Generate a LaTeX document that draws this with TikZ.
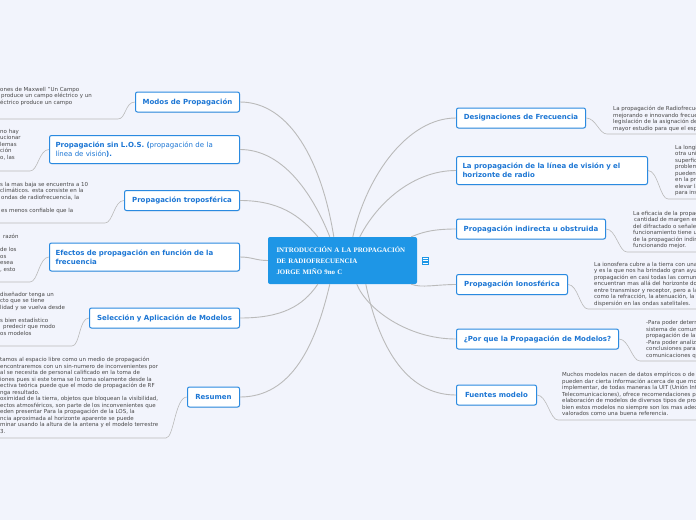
\documentclass[tikz,border=0pt]{standalone}
\usepackage{fontspec}
\setmainfont{DejaVu Sans}
\newfontfamily\rootfont{Liberation Serif}
\usepackage{tikz}
\usetikzlibrary{shadows}
\usepackage{xcolor}
\definecolor{bgpaper}{RGB}{242,244,252}
\definecolor{rootblue}{RGB}{30,150,230}
\definecolor{topicblue}{RGB}{42,138,224}
\definecolor{topictext}{RGB}{28,118,212}
\definecolor{linegray}{RGB}{186,186,186}
\definecolor{notegray}{RGB}{72,72,72}

\begin{document}
\begin{tikzpicture}[x=1pt,y=-1pt,
    root/.style={fill=rootblue, rounded corners=2pt, text=white, align=left,
      minimum width=149pt, minimum height=47pt, text width=132pt, inner xsep=8.5pt,
      font=\rootfont\bfseries\fontsize{6.9}{11}\selectfont},
    topic/.style={draw=topicblue, line width=1pt, fill=white, rounded corners=2pt,
      text=topictext, font=\fontsize{7}{9}\selectfont\bfseries,
      minimum height=20pt, inner xsep=6pt, inner ysep=4pt,
      drop shadow={opacity=0.12, shadow xshift=0.6pt, shadow yshift=-0.8pt}},
    twoline/.style={align=left, text width=#1, minimum height=28pt},
    note/.style={font=\fontsize{5.5}{6.5}\selectfont, text=notegray, align=left,
      inner sep=0pt, anchor=north west},
    branch/.style={draw=linegray, line width=0.9pt},
    under/.style={draw=linegray, line width=0.6pt}]

    % Canvas
    \useasboundingbox (0,0) rectangle (696,520);
    \clip (0,0) rectangle (696,520);
    \fill[bgpaper] (0,0) rectangle (696,520);

    % Central topic
    \node[root] (root) at (342.5,260.5) {INTRODUCCIÓN A LA PROPAGACIÓN\\DE RADIOFRECUENCIA\\JORGE MIÑO 9no C};
    \node[fill=rootblue, minimum width=7pt, minimum height=8pt, inner sep=0pt] (noteicon) at (425,260.5) {};
    \draw[white, line width=0.6pt] (422.5,258) -- (427.5,258) (422.5,260.5) -- (427.5,260.5) (422.5,263) -- (427.5,263);

    % Left topics
    \node[topic, anchor=east, minimum width=104pt] (modos) at (240,102) {Modos de Propagación};
    \node[topic, twoline=178pt, anchor=east] (sinlos) at (240,149.5) {Propagación sin L.O.S. ({\mdseries propagación de la\\línea de visión}).};
    \node[topic, anchor=east, minimum width=115pt] (tropo) at (240,200.5) {Propagación troposférica};
    \node[topic, twoline=178pt, anchor=east] (efectos) at (240,257) {Efectos de propagación en función de la\\frecuencia};
    \node[topic, anchor=east, minimum width=150pt] (seleccion) at (240,318) {Selección y Aplicación de Modelos};
    \node[topic, anchor=east, minimum width=52pt] (resumen) at (240,397) {Resumen};

    % Right topics
    \node[topic, anchor=west, minimum width=129pt] (designa) at (456,118) {Designaciones de Frecuencia};
    \node[topic, twoline=179pt, anchor=west] (vision) at (456,170.5) {La propagación de la línea de visión y el\\horizonte de radio};
    \node[topic, anchor=west, minimum width=149pt] (indirecta) at (456,229) {Propagación indirecta u obstruida};
    \node[topic, anchor=west, minimum width=111pt] (ionos) at (456,284.5) {Propagación Ionosférica};
    \node[topic, anchor=west, minimum width=162pt] (porque) at (456,339) {¿Por que la Propagación de Modelos?};
    \node[topic, anchor=west, minimum width=80pt] (fuentes) at (456,395) {Fuentes modelo};

    % Branches to the central topic
    \coordinate (rtModos) at ([xshift=66pt]root.north west);
    \coordinate (rtSinlos) at ([xshift=62pt]root.north west);
    \coordinate (rtTropo) at ([xshift=50pt]root.north west);
    \coordinate (rtDesigna) at ([xshift=85pt]root.north west);
    \coordinate (rtVision) at ([xshift=92pt]root.north west);
    \coordinate (rtIndirecta) at ([xshift=-6pt]root.north east);
    \coordinate (rtIonos) at ([xshift=-6pt]root.south east);
    \coordinate (rtSeleccion) at ([xshift=50pt]root.south west);
    \coordinate (rtResumen) at ([xshift=62pt]root.south west);
    \coordinate (rtPorque) at ([xshift=89pt]root.south west);
    \coordinate (rtFuentes) at ([xshift=98pt]root.south west);

    \draw[branch] (modos.east) .. controls +(50,0) and +(-12,-75) .. (rtModos);
    \draw[branch] (sinlos.east) .. controls +(42,0) and +(-18,-45) .. (rtSinlos);
    \draw[branch] (tropo.east) .. controls +(38,0) and +(-18,-22) .. (rtTropo);
    \draw[branch] (efectos.east) .. controls +(12,0) and +(-12,0) .. (root.west);
    \draw[branch] (seleccion.east) .. controls +(42,0) and +(-15,22) .. (rtSeleccion);
    \draw[branch] (resumen.east) .. controls +(52,0) and +(-14,60) .. (rtResumen);
    \draw[branch] (designa.west) .. controls +(-48,0) and +(14,-62) .. (rtDesigna);
    \draw[branch] (vision.west) .. controls +(-42,0) and +(18,-35) .. (rtVision);
    \draw[branch] (indirecta.west) .. controls +(-25,0) and +(10,-4) .. (rtIndirecta);
    \draw[branch] (ionos.west) .. controls +(-20,0) and +(10,4) .. (rtIonos);
    \draw[branch] (porque.west) .. controls +(-48,0) and +(10,25) .. (rtPorque);
    \draw[branch] (fuentes.west) .. controls +(-52,0) and +(12,58) .. (rtFuentes);

    % Notes under the left topics
    \coordinate (modosU) at (118,119);   \coordinate (modosL) at (0,119);
    \coordinate (sinlosU) at (30,171);   \coordinate (sinlosL) at (0,171);
    \coordinate (tropoU) at (105,223);   \coordinate (tropoL) at (0,223);
    \coordinate (efectosU) at (30,282);  \coordinate (efectosL) at (0,282);
    \coordinate (seleccionU) at (72,346); \coordinate (seleccionL) at (0,346);
    \coordinate (resumenU) at (166,438); \coordinate (resumenL) at (0,438);
    \draw[under] (modos.west) .. controls +(-10,0) and +(8,0) .. (modosU) -- (modosL);
    \draw[under] (sinlos.west) .. controls +(-10,0) and +(8,0) .. (sinlosU) -- (sinlosL);
    \draw[under] (tropo.west) .. controls +(-10,0) and +(8,0) .. (tropoU) -- (tropoL);
    \draw[under] (efectos.west) .. controls +(-10,0) and +(8,0) .. (efectosU) -- (efectosL);
    \draw[under] (seleccion.west) .. controls +(-10,0) and +(8,0) .. (seleccionU) -- (seleccionL);
    \draw[under] (resumen.west) .. controls +(-12,0) and +(8,0) .. (resumenU) -- (resumenL);

    \node[note] (modosN) at (0,87) {ones de Maxwell "Un Campo\\\hspace*{1pt}produce un campo eléctrico y un\\éctrico produce un campo};
    \node[note] (sinlosN) at (0,129) {no hay\\ucionar\\lemas\\ción\\o, las};
    \node[note] (tropoN) at (0,182) {s la mas baja se encuentra a 10\\climáticos. esta consiste en la\\\hspace*{1pt}ondas de radiofrecuencia, la\\[6.5pt]\hspace*{1pt}es menos confiable que la};
    \node[note] (efectosN) at (0,234) {\hspace*{3pt}razón\\[6.5pt]de los\\os\\esea\\, esto};
    \node[note] (seleccionN) at (0,292) {diseñador tenga un\\cto que se tiene\\lidad y se vuelva desde\\[6.5pt]s bien estadístico\\\hspace*{3pt}predecir que modo\\os modelos};
    \node[note] (resumenN) at (0,357) {tamos al espacio libre como un medio de propagación\\encontraremos con un sin-numero de inconvenientes por\\al se necesita de personal calificado en la toma de\\iones pues si este tema se lo toma solamente desde la\\ectiva teórica puede que el modo de propagación de RF\\nga resultado.\\oximidad de la tierra, objetos que bloquean la visibilidad,\\ectos atmosféricos, son parte de los inconvenientes que\\eden presentar Para la propagación de la LOS, la\\ncia aproximada al horizonte aparente se puede\\minar usando la altura de la antena y el modelo terrestre\\3.};

    % Notes under the right topics
    \coordinate (designaU) at (607,134);  \coordinate (designaR) at (696,134);
    \coordinate (visionU) at (668,199);   \coordinate (visionR) at (696,199);
    \coordinate (indirectaU) at (627,252); \coordinate (indirectaR) at (696,252);
    \coordinate (ionosU) at (588,309);    \coordinate (ionosR) at (696,309);
    \coordinate (porqueU) at (640,361);   \coordinate (porqueR) at (696,361);
    \coordinate (fuentesU) at (558,420);  \coordinate (fuentesR) at (696,420);
    \draw[under] (designa.east) .. controls +(10,0) and +(-8,0) .. (designaU) -- (designaR);
    \draw[under] (vision.east) .. controls +(10,0) and +(-8,0) .. (visionU) -- (visionR);
    \draw[under] (indirecta.east) .. controls +(10,0) and +(-8,0) .. (indirectaU) -- (indirectaR);
    \draw[under] (ionos.east) .. controls +(10,0) and +(-8,0) .. (ionosU) -- (ionosR);
    \draw[under] (porque.east) .. controls +(10,0) and +(-8,0) .. (porqueU) -- (porqueR);
    \draw[under] (fuentes.east) .. controls +(10,0) and +(-8,0) .. (fuentesU) -- (fuentesR);

    \node[note] (designaN) at (613,106) {La propagación de Radiofrecuencia\\mejorando e innovando frecuencias\\legislación de la asignación de\\mayor estudio para que el espectro};
    \node[note] (visionN) at (675,145) {La longitud\\otra unidad\\superficie\\problemas\\pueden\\en la propagación\\elevar la\\para instalar};
    \node[note] (indirectaN) at (633,210.5) {La eficacia de la propagación\\\hspace*{1pt}cantidad de margen en\\del difractado o señales\\funcionamiento tiene un\\de la propagación indirecta\\funcionando mejor.};
    \node[note] (ionosN) at (594,262) {La ionosfera cubre a la tierra con una\\y es la que nos ha brindado gran ayuda\\propagación en casi todas las comunicaciones\\encuentran mas allá del horizonte donde\\entre transmisor y receptor, pero a la vez\\como la refracción, la atenuación, la\\dispersión en las ondas satelitales.};
    \node[note] (porqueN) at (646,320.5) {-Para poder determinar\\sistema de comunicaciones\\propagación de la\\-Para poder analizar\\conclusiones para\\comunicaciones que};
    \node[note] (fuentesN) at (562,372) {Muchos modelos nacen de datos empíricos o de\\pueden dar cierta información acerca de que modelo\\implementar, de todas maneras la UIT (Unión Internacional de\\Telecomunicaciones), ofrece recomendaciones para la\\elaboración de modelos de diversos tipos de propagación\\bien estos modelos no siempre son los mas adecuados\\valorados como una buena referencia.};
\end{tikzpicture}
\end{document}
